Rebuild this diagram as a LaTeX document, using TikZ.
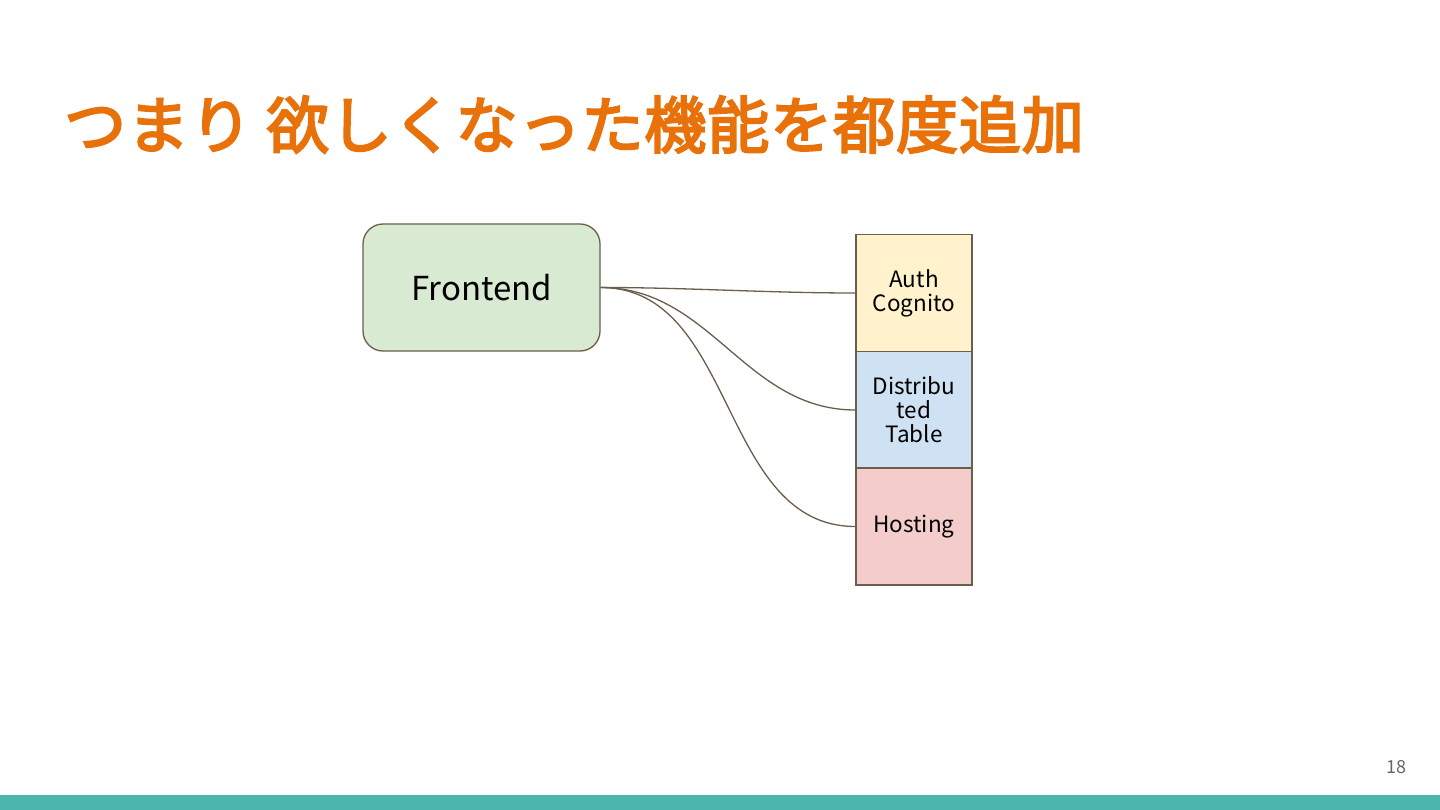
\documentclass[tikz,border=0pt]{standalone}
\usepackage{fontspec}
\setmainfont{Noto Sans CJK JP}
\newfontfamily\jpfont[FakeBold=3.5,LetterSpace=1.5]{Noto Sans CJK JP}
\definecolor{titleor}{HTML}{E8710A}
\definecolor{edgec}{HTML}{6B5E4A}
\definecolor{feg}{HTML}{D9EAD3}
\definecolor{authy}{HTML}{FFF2CC}
\definecolor{distb}{HTML}{CFE2F3}
\definecolor{hostr}{HTML}{F4CCCC}
\definecolor{barc}{HTML}{4DB6AC}
\definecolor{numc}{HTML}{666666}
\tikzset{
  stackbox/.style={draw=edgec, line width=1.2pt, minimum width=116pt, minimum height=117pt, inner sep=0pt, align=center, font=\fontsize{22.5}{24}\selectfont},
  conn/.style={draw=edgec, line width=1.3pt},
}
\begin{document}
\begin{tikzpicture}[x=1pt,y=-1pt]
\useasboundingbox (0,0) rectangle (1440,810);
\fill[white] (0,0) rectangle (1440,810);
\fill[barc] (0,795) rectangle (1440,810);
\node[anchor=base west, inner sep=0pt, text=titleor, font=\jpfont\fontsize{62}{70}\selectfont] (title) at (64,148) {つまり 欲しくなった機能を都度追加};
\node[draw=edgec, line width=1.3pt, fill=feg, rounded corners=20pt, minimum width=237pt, minimum height=127pt, font=\fontsize{33}{36}\selectfont] (fe) at (481.5,287.5) {Frontend};
\node[stackbox, fill=authy] (auth) at (914,293) {Auth\\Cognito};
\node[stackbox, fill=distb] (dist) at (914,410) {Distribu\\ted\\Table};
\node[stackbox, fill=hostr] (host) at (914,526.5) {Hosting};
\draw[conn] (fe.east) to[out=0, in=180, looseness=0.9] (auth.west);
\draw[conn] (fe.east) to[out=0, in=180] (dist.west);
\draw[conn] (fe.east) to[out=0, in=180] (host.west);
\node[anchor=base east, inner sep=0pt, text=numc, font=\fontsize{18}{20}\selectfont] (pg) at (1407,773) {18};
\end{tikzpicture}
\end{document}
